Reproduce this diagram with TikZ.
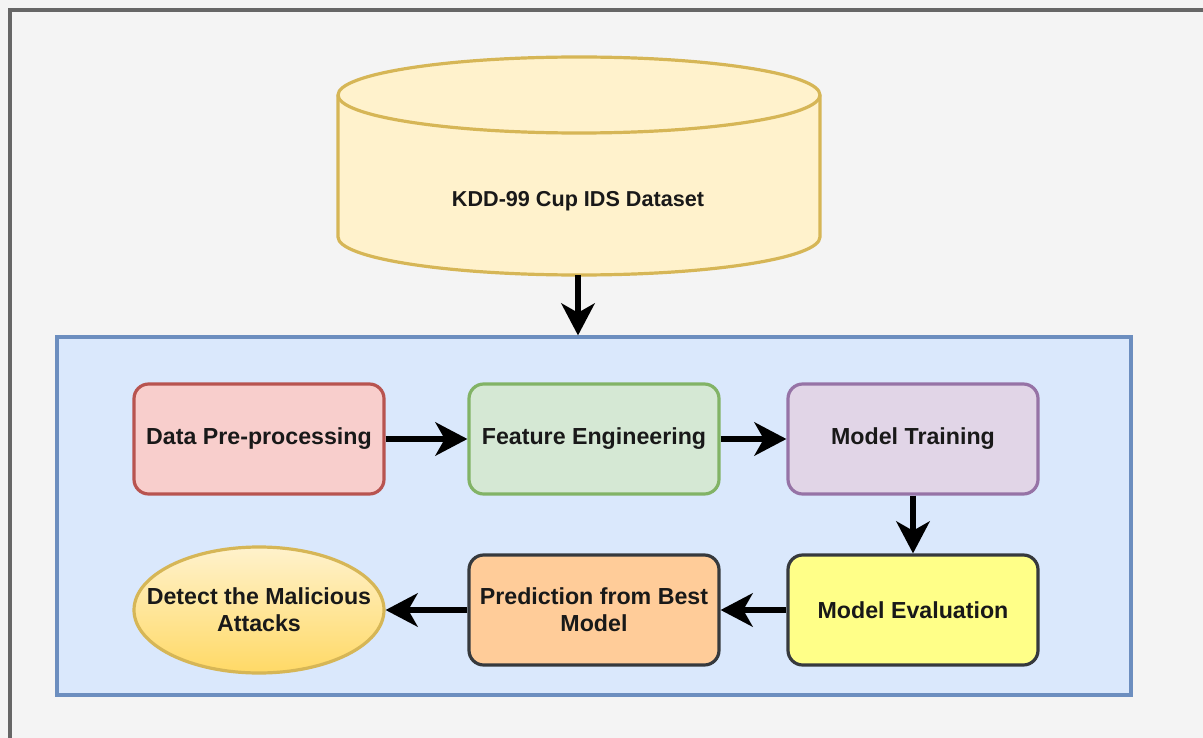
\documentclass[tikz,border=0pt]{standalone}
\usepackage{fontspec}
\setmainfont{Liberation Sans}
\usetikzlibrary{arrows.meta,shapes.geometric}
\definecolor{bgc}{HTML}{F4F4F4}
\definecolor{framec}{HTML}{666666}
\definecolor{dbfill}{HTML}{FFF2CC}
\definecolor{dbdraw}{HTML}{D6B656}
\definecolor{blfill}{HTML}{DAE8FC}
\definecolor{bldraw}{HTML}{6C8EBF}
\definecolor{rfill}{HTML}{F8CECC}
\definecolor{rdraw}{HTML}{B85450}
\definecolor{gfill}{HTML}{D5E8D4}
\definecolor{gdraw}{HTML}{82B366}
\definecolor{pfill}{HTML}{E1D5E7}
\definecolor{pdraw}{HTML}{9673A6}
\definecolor{yfill}{HTML}{FFFF88}
\definecolor{ofill}{HTML}{FFCC99}
\definecolor{ddraw}{HTML}{36393D}
\definecolor{gold}{HTML}{FFD966}
\tikzset{
  labelfont/.style={font=\fontsize{17.4}{20}\selectfont\bfseries, align=center, text=black!90},
  boxstyle/.style={draw, rounded corners=11pt, line width=2.4pt, minimum width=187.5pt, minimum height=82.5pt, inner sep=2pt, labelfont},
  flowarrow/.style={line width=3.9pt, -{Stealth[length=24pt,width=25pt,inset=7pt]}},
}
\begin{document}
\begin{tikzpicture}[x=0.75pt,y=-0.75pt]
\useasboundingbox (0,0) rectangle (1203,738);
\clip (0,0) rectangle (1203,738);
\fill[bgc] (0,0) rectangle (1203,738);
\draw[framec, line width=3pt] (10,10) rectangle (1230,770);
% cylinder
\draw[dbdraw, fill=dbfill, line width=2.4pt]
  (338,95) -- (338,237) arc[start angle=180, end angle=0, x radius=241, y radius=38]
  -- (820,95) arc[start angle=0, end angle=-180, x radius=241, y radius=38] -- cycle;
\draw[dbdraw, line width=2.4pt] (338,95) arc[start angle=180, end angle=0, x radius=241, y radius=38];
\node[labelfont, font=\fontsize{16.2}{19}\selectfont\bfseries] (db) at (578,201) {KDD-99 Cup IDS Dataset};
\coordinate (dbbottom) at (578,275);
% container
\node[draw=bldraw, fill=blfill, line width=2.4pt, minimum width=805.5pt, minimum height=268.5pt, inner sep=0pt] (frame) at (594,516) {};
% boxes
\node[boxstyle, draw=rdraw, fill=rfill] (pre) at (259,439) {Data Pre-processing};
\node[boxstyle, draw=gdraw, fill=gfill] (fe) at (594,439) {Feature Engineering};
\node[boxstyle, draw=pdraw, fill=pfill] (mt) at (913,439) {Model Training};
\node[boxstyle, draw=ddraw, fill=yfill] (me) at (913,610) {Model Evaluation};
\node[boxstyle, draw=ddraw, fill=ofill] (pr) at (594,610) {Prediction from Best\\Model};
\node[ellipse, draw=dbdraw, line width=2.4pt, top color=dbfill, bottom color=gold, minimum width=187.5pt, minimum height=94.5pt, inner sep=0pt] (det) at (259,610) {};
\node[labelfont] (dettext) at (det.center) {Detect the Malicious\\Attacks};
% arrows
\draw[flowarrow] (dbbottom) -- (dbbottom |- frame.north);
\draw[flowarrow] (pre) -- (fe);
\draw[flowarrow] (fe) -- (mt);
\draw[flowarrow] (mt) -- (me);
\draw[flowarrow] (me) -- (pr);
\draw[flowarrow] (pr) -- (det);
\end{tikzpicture}
\end{document}
